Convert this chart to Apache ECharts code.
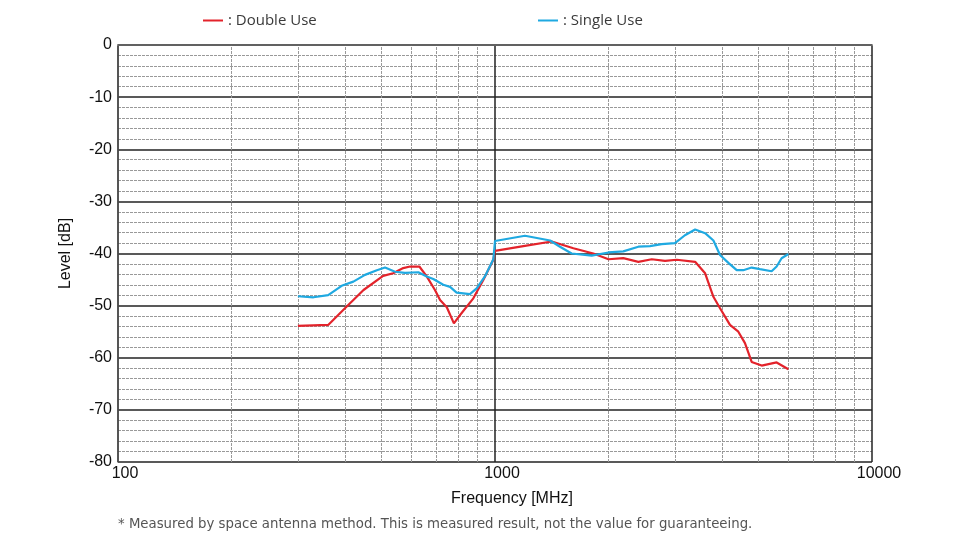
<!DOCTYPE html>
<html>
<head>
<meta charset="utf-8">
<script src="https://cdn.jsdelivr.net/npm/echarts@6/dist/echarts.min.js"></script>
<style>html,body{margin:0;padding:0;background:#fff}#c{width:960px;height:547px}</style>
</head>
<body>
<div id="c"></div>
<script>
// Double Use
var freqDouble = [300, 361, 400, 448, 505, 537, 571, 595, 630, 659, 693, 715, 745, 778, 808, 876, 931, 990, 1000, 1189, 1414, 1614, 1823, 2000, 2189, 2400, 2605, 2825, 3035, 3395, 3609, 3796, 3953, 4200, 4420, 4603, 4795, 5097, 5585, 6000];
var levelDouble = [-53.9, -53.7, -50.5, -47.0, -44.3, -43.8, -42.8, -42.5, -42.5, -44.4, -47.0, -48.9, -50.3, -53.4, -51.8, -48.6, -45.1, -41.2, -39.5, -38.6, -37.7, -39.0, -40.0, -41.1, -40.9, -41.6, -41.1, -41.4, -41.2, -41.6, -43.8, -48.3, -50.5, -53.7, -55.0, -57.2, -60.8, -61.5, -60.9, -62.2];
// Single Use
var freqSingle = [300, 330, 361, 392, 421, 452, 486, 511, 543, 577, 626, 659, 686, 729, 760, 791, 858, 894, 940, 990, 1000, 1201, 1400, 1487, 1597, 1805, 2000, 2189, 2400, 2577, 2768, 3001, 3190, 3395, 3609, 3796, 3953, 4160, 4377, 4556, 4795, 5045, 5417, 5585, 5757, 6000];
var levelSingle = [-48.2, -48.4, -48.0, -46.2, -45.4, -44.1, -43.2, -42.7, -43.5, -43.7, -43.6, -44.4, -44.9, -46.0, -46.4, -47.5, -47.8, -46.7, -44.4, -41.1, -37.6, -36.6, -37.5, -38.7, -40.0, -40.4, -39.8, -39.6, -38.7, -38.6, -38.2, -38.0, -36.5, -35.4, -36.1, -37.5, -40.3, -41.8, -43.2, -43.2, -42.7, -43.0, -43.4, -42.5, -40.9, -40.1];
// Minor vertical grid frequencies
var minorFreqs = [200, 300, 400, 500, 600, 700, 800, 900, 2000, 3000, 4000, 5000, 6000, 7000, 8000, 9000];
var seriesNames = ['Double Use', 'Single Use'];
var note = '* Measured by space antenna method. This is measured result, not the value for guaranteeing.';

function pairs(xs, ys) { return xs.map(function (x, i) { return [x, ys[i]]; }); }

var chart = echarts.init(document.getElementById('c'), null, {renderer: 'canvas'});
var legendText = {fontFamily: 'Open Sans', fontSize: 15, color: '#3a3a3a'};
chart.setOption({
  animation: false,
  grid: {left: 118, right: 88, top: 45, bottom: 85},
  legend: [
    {left: 198, top: 8, data: [seriesNames[0]], icon: 'rect', itemWidth: 20, itemHeight: 2, itemGap: 6, formatter: ': {name}', textStyle: legendText},
    {left: 533, top: 8, data: [seriesNames[1]], icon: 'rect', itemWidth: 20, itemHeight: 2, itemGap: 6, formatter: ': {name}', textStyle: legendText}
  ],
  xAxis: {
    type: 'log', logBase: 10, min: 100, max: 10000,
    name: 'Frequency [MHz]', nameLocation: 'middle', nameGap: 29,
    nameTextStyle: {fontFamily: 'Liberation Sans', fontSize: 16, color: '#111', padding: [0, 0, 0, 34]},
    axisLine: {show: true, lineStyle: {color: '#888', width: 2}},
    axisTick: {show: false},
    axisLabel: {fontFamily: 'Liberation Sans', fontSize: 16, color: '#111', margin: 4, padding: [0, 0, 0, 14], showMinLabel: true, showMaxLabel: true,
      formatter: function (v) { return String(Math.round(v)); }},
    splitLine: {show: true, lineStyle: {color: '#222', width: 1.5}}
  },
  yAxis: {
    type: 'value', min: -80, max: 0, interval: 10,
    name: 'Level [dB]', nameLocation: 'middle', nameGap: 44, nameRotate: 90,
    nameTextStyle: {fontFamily: 'Liberation Sans', fontSize: 16, color: '#111'},
    axisLine: {show: true, lineStyle: {color: '#555', width: 1.5}},
    axisTick: {show: false},
    axisLabel: {fontFamily: 'Liberation Sans', fontSize: 16, color: '#111', margin: 6},
    splitLine: {show: true, lineStyle: {color: '#222', width: 1.5}},
    minorTick: {show: false, splitNumber: 5},
    minorSplitLine: {show: true, lineStyle: {color: '#999', width: 1, type: [3, 1]}}
  },
  graphic: [
    {type: 'text', left: 118, top: 518, style: {text: note, fontFamily: 'DejaVu Sans', fontSize: 13.3, fill: '#555'}},
    {type: 'line', shape: {x1: 118, y1: 45, x2: 872, y2: 45}, style: {stroke: '#555', lineWidth: 1.5}, z: 10}
  ],
  series: [
    {
      type: 'line', name: '_grid', data: [], silent: true, z: 1,
      markLine: {
        silent: true, symbol: ['none', 'none'], label: {show: false}, animation: false,
        lineStyle: {color: '#999', width: 1, type: [3, 1]},
        data: minorFreqs.map(function (f) { return {xAxis: f}; })
      }
    },
    {type: 'line', name: seriesNames[0], data: pairs(freqDouble, levelDouble), showSymbol: false, symbol: 'none', z: 5,
      lineStyle: {color: '#e3232b', width: 2.2}, itemStyle: {color: '#e3232b'}},
    {type: 'line', name: seriesNames[1], data: pairs(freqSingle, levelSingle), showSymbol: false, symbol: 'none', z: 6,
      lineStyle: {color: '#1fa9e1', width: 2.2}, itemStyle: {color: '#1fa9e1'}}
  ]
});
</script>
</body>
</html>
